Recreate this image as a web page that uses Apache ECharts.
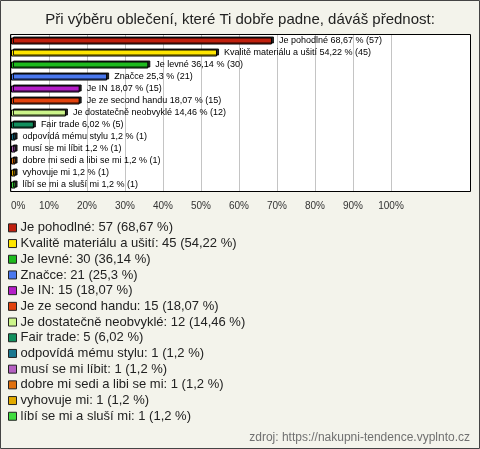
<!DOCTYPE html>
<html>
<head>
<meta charset="utf-8">
<script src="https://cdn.jsdelivr.net/npm/echarts@6/dist/echarts.min.js"></script>
<style>
html,body{margin:0;padding:0;background:#f3f3eb;}
#chart{width:480px;height:449px;}
</style>
</head>
<body>
<div id="chart"></div>
<script>
const titleText = 'Při výběru oblečení, které Ti dobře padne, dáváš přednost:';
const sourceText = 'zdroj: https://nakupni-tendence.vyplnto.cz';
const categories = ['Je pohodlné','Kvalitě materiálu a ušití','Je levné','Značce','Je IN','Je ze second handu','Je dostatečně neobvyklé','Fair trade','odpovídá mému stylu','musí se mi líbit','dobre mi sedi a libi se mi','vyhovuje mi','líbí se mi a sluší mi'];
const counts = [57,45,30,21,15,15,12,5,1,1,1,1,1];
const percents = [68.67,54.22,36.14,25.3,18.07,18.07,14.46,6.02,1.2,1.2,1.2,1.2,1.2];
const colors = ['#c0200e','#ffe600','#1ebb1e','#4a78ef','#b41ec8','#e2420e','#ccf58a','#11905e','#1a7890','#b560c2','#e0700e','#e2aa00','#40dc40'];
const xTicks = [0,10,20,30,40,50,60,70,80,90,100];

const fmt = v => String(v).replace('.', ',');

const series = categories.map((name, i) => ({
  name: name,
  type: 'bar',
  stack: 'all',
  barWidth: 7,
  data: categories.map((c, j) => j === i ? percents[i] : '-'),
  itemStyle: {color: colors[i], borderColor: '#000', borderWidth: 1,
              shadowColor: 'rgba(0,0,0,0.85)', shadowOffsetX: 2, shadowOffsetY: -1, shadowBlur: 0},
  label: {
    show: true, position: 'right', distance: 7,
    fontFamily: 'Liberation Sans', fontSize: 9, color: '#000',
    formatter: () => name + ' ' + fmt(percents[i]) + ' % (' + counts[i] + ')'
  }
}));

const chart = echarts.init(document.getElementById('chart'));
chart.setOption({
  animation: false,
  backgroundColor: '#f3f3eb',
  title: {
    text: titleText, left: 'center', top: 7,
    textStyle: {fontFamily: 'Liberation Sans', fontSize: 15, fontWeight: 'normal', color: '#222'}
  },
  graphic: [
    {type: 'rect', z: -100, shape: {x: 0.5, y: 0.5, width: 479, height: 448}, style: {fill: 'none', stroke: '#444', lineWidth: 1}},
    {type: 'rect', z: -90, shape: {x: 10.5, y: 34.5, width: 460, height: 157}, style: {fill: '#fff', stroke: '#000', lineWidth: 1}},
    {type: 'text', right: 10, top: 432, style: {text: sourceText, font: '12px "Liberation Sans"', fill: '#707070'}}
  ],
  grid: {left: 11, top: 35, width: 380, height: 156, containLabel: false},
  xAxis: {
    type: 'value', min: xTicks[0], max: xTicks[xTicks.length-1], interval: 10,
    axisLine: {show: false}, axisTick: {show: false},
    splitLine: {show: true, lineStyle: {color: '#c4c4c4', width: 1}},
    axisLabel: {formatter: '{value}%', margin: 10, fontFamily: 'Liberation Sans', fontSize: 10, color: '#333', alignMinLabel: 'left'}
  },
  yAxis: {
    type: 'category', data: categories, inverse: true,
    axisLine: {show: false}, axisTick: {show: false}, axisLabel: {show: false}, splitLine: {show: false}
  },
  legend: {
    orient: 'vertical', left: 8, top: 220, itemGap: 0, padding: 0,
    icon: 'rect', itemWidth: 8, itemHeight: 8,
    itemStyle: {borderColor: '#222', borderWidth: 1},
    textStyle: {fontFamily: 'Liberation Sans', fontSize: 13, color: '#222', lineHeight: 15.7, padding: [0,0,0,-1]},
    data: categories,
    formatter: name => {
      const i = categories.indexOf(name);
      return name + ': ' + counts[i] + ' (' + fmt(percents[i]) + ' %)';
    }
  },
  series: series
});
</script>
</body>
</html>
